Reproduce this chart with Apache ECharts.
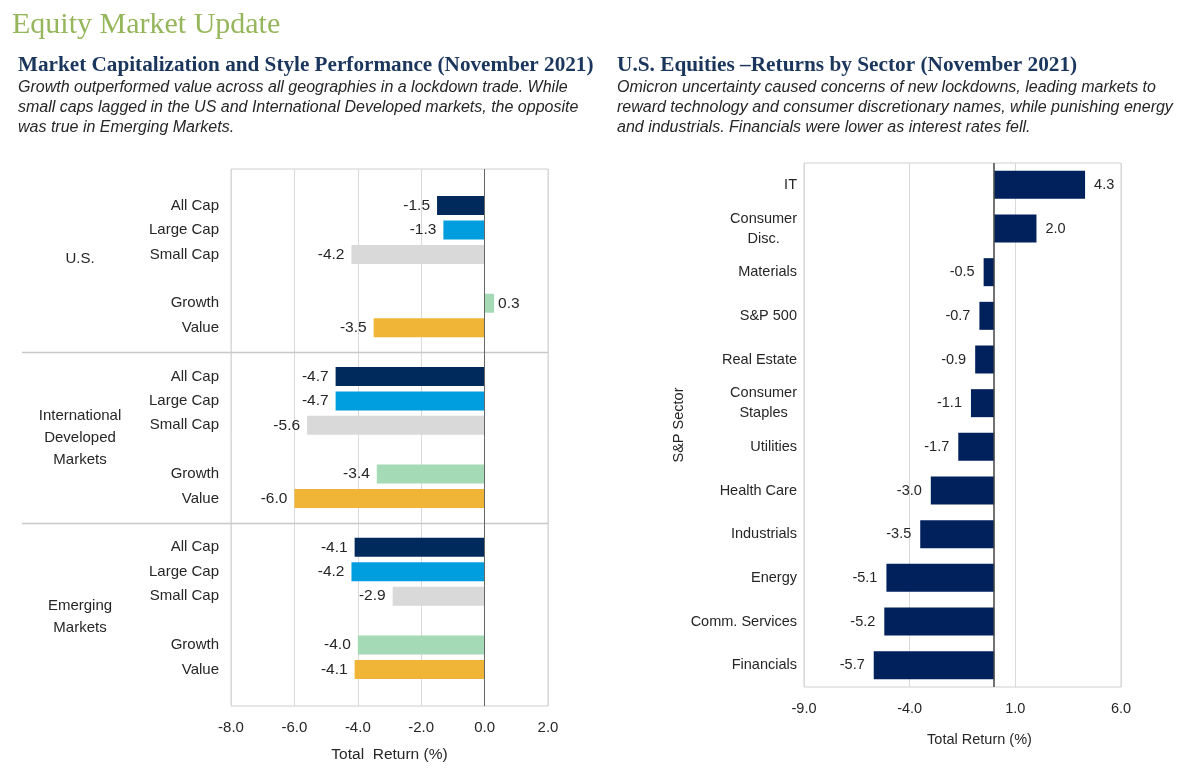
<!DOCTYPE html>
<html><head><meta charset="utf-8">
<script src="https://cdn.jsdelivr.net/npm/echarts@6/dist/echarts.min.js"></script>
<style>html,body{margin:0;padding:0;background:#fff}#c{width:1200px;height:782px}</style>
</head><body><div id="c"></div><script>
// ---------- texts ----------
const pageTitle = 'Equity Market Update';
const leftTitle = 'Market Capitalization and Style Performance (November 2021)';
const leftNote = [
  'Growth outperformed value across all geographies in a lockdown trade. While',
  'small caps lagged in the US and International Developed markets, the opposite',
  'was true in Emerging Markets.'
];
const rightTitle = 'U.S. Equities \u2013Returns by Sector (November 2021)';
const rightNote = [
  'Omicron uncertainty caused concerns of new lockdowns, leading markets to',
  'reward technology and consumer discretionary names, while punishing energy',
  'and industrials. Financials were lower as interest rates fell.'
];

// ---------- left chart data ----------
const regionNames = ['U.S.', 'International\nDeveloped\nMarkets', 'Emerging\nMarkets'];
const styleNames = ['All Cap', 'Large Cap', 'Small Cap', 'Growth', 'Value'];
const styleColors = ['#012a5c', '#009ddf', '#d9d9d9', '#a4dbb6', '#f0b437'];
const usReturns = [-1.5, -1.3, -4.2, 0.3, -3.5];
const intlReturns = [-4.7, -4.7, -5.6, -3.4, -6.0];
const emReturns = [-4.1, -4.2, -2.9, -4.0, -4.1];
const leftAxisTicks = [-8, -6, -4, -2, 0, 2];
const leftAxisName = 'Total  Return (%)';

// ---------- right chart data ----------
const sectorNames = ['IT', 'Consumer\nDisc.', 'Materials', 'S&P 500', 'Real Estate', 'Consumer\nStaples',
  'Utilities', 'Health Care', 'Industrials', 'Energy', 'Comm. Services', 'Financials'];
const sectorReturns = [4.3, 2.0, -0.5, -0.7, -0.9, -1.1, -1.7, -3.0, -3.5, -5.1, -5.2, -5.7];
const rightAxisTicks = [-9, -4, 1, 6];
const rightAxisName = 'Total Return (%)';
const rightYName = 'S&P Sector';
const sectorColor = '#00215c';

// ---------- build left categories (blank spacer slots) ----------
const slotLayout = [null, 0, 1, 2, null, 3, 4];
const leftCats = [];
const leftData = [];
const separatorIdx = [];
[usReturns, intlReturns, emReturns].forEach((vals, g) => {
  if (g > 0) separatorIdx.push(leftCats.length);
  slotLayout.forEach(k => {
    if (k === null) { leftCats.push(''); leftData.push('-'); }
    else {
      const v = vals[k];
      leftCats.push(styleNames[k]);
      leftData.push({
        value: v,
        itemStyle: { color: styleColors[k] },
        label: { position: v < 0 ? 'left' : 'right', distance: v < 0 ? 7 : 4 }
      });
    }
  });
});
leftCats.push(''); leftData.push('-');

const rightData = sectorReturns.map(v => ({
  value: v,
  label: { position: v < 0 ? 'left' : 'right', distance: 9 }
}));

const txt = '#262626';
const sans = "'Liberation Sans', Arial, sans-serif";
const serif = "'Liberation Serif', 'Times New Roman', serif";

const chart = echarts.init(document.getElementById('c'));
chart.setOption({
  animation: false,
  backgroundColor: '#fff',
  title: [
    { text: pageTitle, left: 7, top: 5, textStyle: { fontFamily: serif, fontSize: 30, fontWeight: 'normal', color: '#96b65c' } },
    { text: leftTitle, left: 13, top: 50, textStyle: { fontFamily: serif, fontSize: 21.2, fontWeight: 'bold', color: '#1b365d' } },
    { text: leftNote.join('\n'), left: 13, top: 73, textStyle: { fontFamily: sans, fontSize: 16, fontStyle: 'italic', fontWeight: 'normal', color: txt, lineHeight: 20 } },
    { text: rightTitle, left: 612, top: 50, textStyle: { fontFamily: serif, fontSize: 21.3, fontWeight: 'bold', color: '#1b365d' } },
    { text: rightNote.join('\n'), left: 612, top: 73, textStyle: { fontFamily: sans, fontSize: 16, fontStyle: 'italic', fontWeight: 'normal', color: txt, lineHeight: 20 } }
  ],
  grid: [
    { left: 231, right: 652, top: 169, bottom: 76, show: true, borderColor: '#d0d0d0', borderWidth: 1, containLabel: false },
    { left: 804, right: 79, top: 163, bottom: 95, show: true, borderColor: '#d0d0d0', borderWidth: 1, containLabel: false }
  ],
  xAxis: [
    {
      gridIndex: 0, type: 'value', min: leftAxisTicks[0], max: leftAxisTicks[leftAxisTicks.length - 1],
      interval: leftAxisTicks[1] - leftAxisTicks[0],
      axisLine: { show: false }, axisTick: { show: false },
      splitLine: { show: true, lineStyle: { color: '#d9d9d9', width: 1 } },
      axisLabel: { margin: 14, fontFamily: sans, fontSize: 15, color: txt, formatter: v => v.toFixed(1) },
      name: leftAxisName, nameLocation: 'middle', nameGap: 41,
      nameTextStyle: { fontFamily: sans, fontSize: 15.5, color: txt }
    },
    {
      gridIndex: 1, type: 'value', min: rightAxisTicks[0], max: rightAxisTicks[rightAxisTicks.length - 1],
      interval: rightAxisTicks[1] - rightAxisTicks[0],
      axisLine: { show: false }, axisTick: { show: false },
      splitLine: { show: true, lineStyle: { color: '#d9d9d9', width: 1 } },
      axisLabel: { margin: 14, fontFamily: sans, fontSize: 14.5, color: txt, formatter: v => v.toFixed(1) },
      name: rightAxisName, nameLocation: 'middle', nameGap: 45,
      nameTextStyle: { fontFamily: sans, fontSize: 14.5, color: txt, padding: [0, 0, 0, 34] }
    }
  ],
  yAxis: [
    {
      gridIndex: 0, type: 'category', data: leftCats, inverse: true, position: 'left',
      axisLine: { show: false }, axisTick: { show: false }, splitLine: { show: false },
      axisLabel: { interval: 0, margin: 12, fontFamily: sans, fontSize: 15, color: txt }
    },
    {
      gridIndex: 0, type: 'category', data: regionNames, inverse: true, position: 'left',
      axisLine: { show: false }, axisTick: { show: false }, splitLine: { show: false },
      axisLabel: { interval: 0, margin: 151, align: 'center', fontFamily: sans, fontSize: 15, color: txt, lineHeight: 22 }
    },
    {
      gridIndex: 1, type: 'category', data: sectorNames, inverse: true,
      axisLine: { show: false }, axisTick: { show: false }, splitLine: { show: false },
      axisLabel: {
        interval: 0, margin: 7, fontFamily: sans, fontSize: 14.5, color: txt,
        formatter: v => v.split('\n').map(s => '{c|' + s + '}').join('\n'),
        rich: { c: { align: 'center', fontFamily: sans, fontSize: 14.5, color: txt, lineHeight: 20 } }
      },
      name: rightYName, nameLocation: 'middle', nameRotate: 90, nameGap: 118,
      nameTextStyle: { fontFamily: sans, fontSize: 14.5, color: txt }
    }
  ],
  series: [
    {
      type: 'bar', xAxisIndex: 0, yAxisIndex: 0, data: leftData, barWidth: 19,
      label: { show: true, fontFamily: sans, fontSize: 15.5, color: txt, formatter: p => p.value.toFixed(1) },
      emphasis: { disabled: true },
      markLine: { silent: true, symbol: 'none', label: { show: false },
        lineStyle: { color: '#666', width: 1, type: 'solid' }, data: [{ xAxis: 0 }] }
    },
    {
      type: 'bar', xAxisIndex: 1, yAxisIndex: 2, data: rightData, barWidth: 28,
      itemStyle: { color: sectorColor },
      label: { show: true, fontFamily: sans, fontSize: 14.5, color: txt, formatter: p => p.value.toFixed(1) },
      emphasis: { disabled: true },
      markLine: { silent: true, symbol: 'none', label: { show: false },
        lineStyle: { color: '#444', width: 1.5, type: 'solid' }, data: [{ xAxis: 0 }] }
    }
  ]
});

// group separators, positioned with the axis scales
const xRight = chart.convertToPixel({ xAxisIndex: 0 }, leftAxisTicks[leftAxisTicks.length - 1]);
chart.setOption({
  graphic: separatorIdx.map(i => {
    const y = Math.round(chart.convertToPixel({ yAxisIndex: 0 }, i)) + 0.5;
    return { type: 'line', silent: true, shape: { x1: 22, y1: y, x2: xRight, y2: y },
      style: { stroke: '#c8c8c8', lineWidth: 1.5 } };
  })
});
</script></body></html>
